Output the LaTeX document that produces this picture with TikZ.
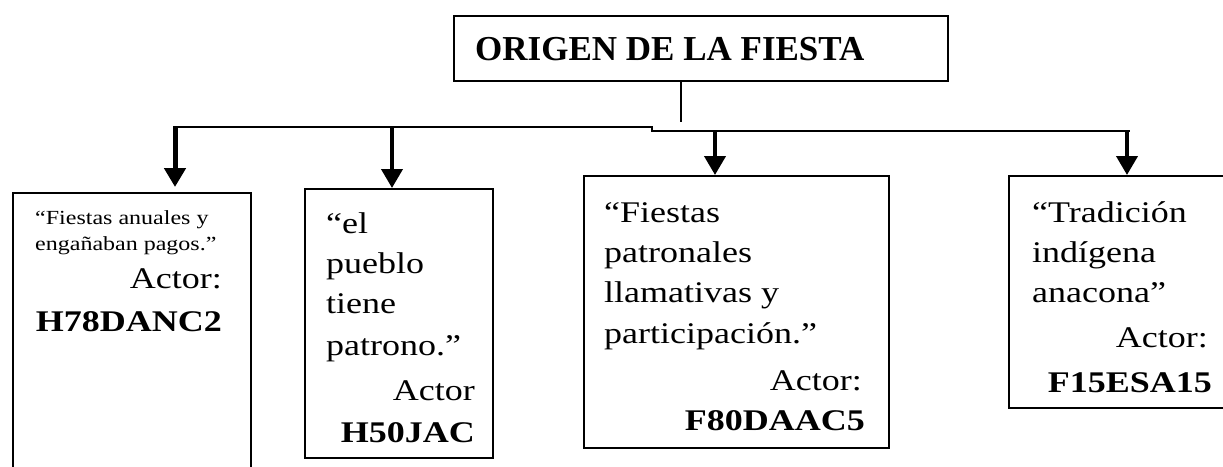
\documentclass[tikz,border=0pt]{standalone}
\usepackage{fontspec}
\setmainfont{Liberation Serif}
\newfontfamily\wide[FakeStretch=1.2]{Liberation Serif}
\usetikzlibrary{arrows.meta}
\begin{document}
\begin{tikzpicture}[x=1pt,y=-1pt,
  box/.style={draw, line width=1.6pt, inner sep=0pt, anchor=north west},
  txt/.style={inner sep=0pt, anchor=base west, font=\wide\fontsize{30}{36}\selectfont},
  small/.style={inner sep=0pt, anchor=base west, font=\wide\fontsize{20}{24}\selectfont},
  rtxt/.style={txt, anchor=base east},
  code/.style={inner sep=0pt, anchor=base east, font=\wide\fontsize{30}{36}\selectfont\bfseries},
  link/.style={line width=1.6pt},
  arr/.style={line width=4pt, -{Triangle[width=21pt,length=19pt]}}
]
\useasboundingbox (0,0) rectangle (1223,466);
\clip (0,0) rectangle (1223,466);
\fill[white] (0,0) rectangle (1223,466);

% title
\node[box, minimum width=494pt, minimum height=65pt] (title) at (453,15) {};
\node[inner sep=0pt, anchor=base west, font=\fontsize{35}{40}\selectfont\bfseries] (ttext) at (475,60) {ORIGEN DE LA FIESTA};

% boxes
\node[box, minimum width=238pt, minimum height=300pt] (b1) at (12,192) {};
\node[box, minimum width=188pt, minimum height=269pt] (b2) at (304,188) {};
\node[box, minimum width=305pt, minimum height=272pt] (b3) at (583,175) {};
\node[box, minimum width=240pt, minimum height=232pt] (b4) at (1008,175) {};

% connectors
\coordinate (j) at (681,122);
\draw[link] (title.south -| j) -- (j);
\coordinate (hl) at (173,127);
\coordinate (hk1) at (652,127);
\coordinate (hk2) at (652,131);
\coordinate (hr) at (1130,131);
\draw[link] (hl) -- (hk1) -- (hk2) -- (hr);
\coordinate (a1) at (175,127);
\coordinate (a2) at (392,127);
\coordinate (a3) at (715,131);
\coordinate (a4) at (1127,131);
\draw[arr, line width=5pt, shorten >=5pt] (a1) -- (a1 |- b1.north);
\draw[arr] (a2) -- (a2 |- b2.north);
\draw[arr] (a3) -- (a3 |- b3.north);
\draw[arr] (a4) -- (a4 |- b4.north);

% box 1 text
\node[small] (t11) at (35,224) {“Fiestas anuales y};
\node[small] (t12) at (35,250) {engañaban pagos.”};
\node[rtxt] (t13) at (222,288) {Actor:};
\node[code] (t14) at (222,331) {H78DANC2};

% box 2 text
\node[txt] (t21) at (326,233) {“el};
\node[txt] (t22) at (326,273) {pueblo};
\node[txt] (t23) at (326,313) {tiene};
\node[txt] (t24) at (326,355) {patrono.”};
\node[rtxt] (t25) at (475,400) {Actor};
\node[code] (t26) at (475,442) {H50JAC};

% box 3 text
\node[txt] (t31) at (604,222) {“Fiestas};
\node[txt] (t32) at (604,262) {patronales};
\node[txt] (t33) at (604,302) {llamativas y};
\node[txt] (t34) at (604,343) {participación.”};
\node[rtxt] (t35) at (862,390) {Actor:};
\node[code] (t36) at (865,430) {F80DAAC5};

% box 4 text
\node[txt] (t41) at (1032,222) {“Tradición};
\node[txt] (t42) at (1032,262) {indígena};
\node[txt] (t43) at (1032,302) {anacona”};
\node[rtxt] (t44) at (1208,347) {Actor:};
\node[code] (t45) at (1212,392) {F15ESA15};
\end{tikzpicture}
\end{document}
